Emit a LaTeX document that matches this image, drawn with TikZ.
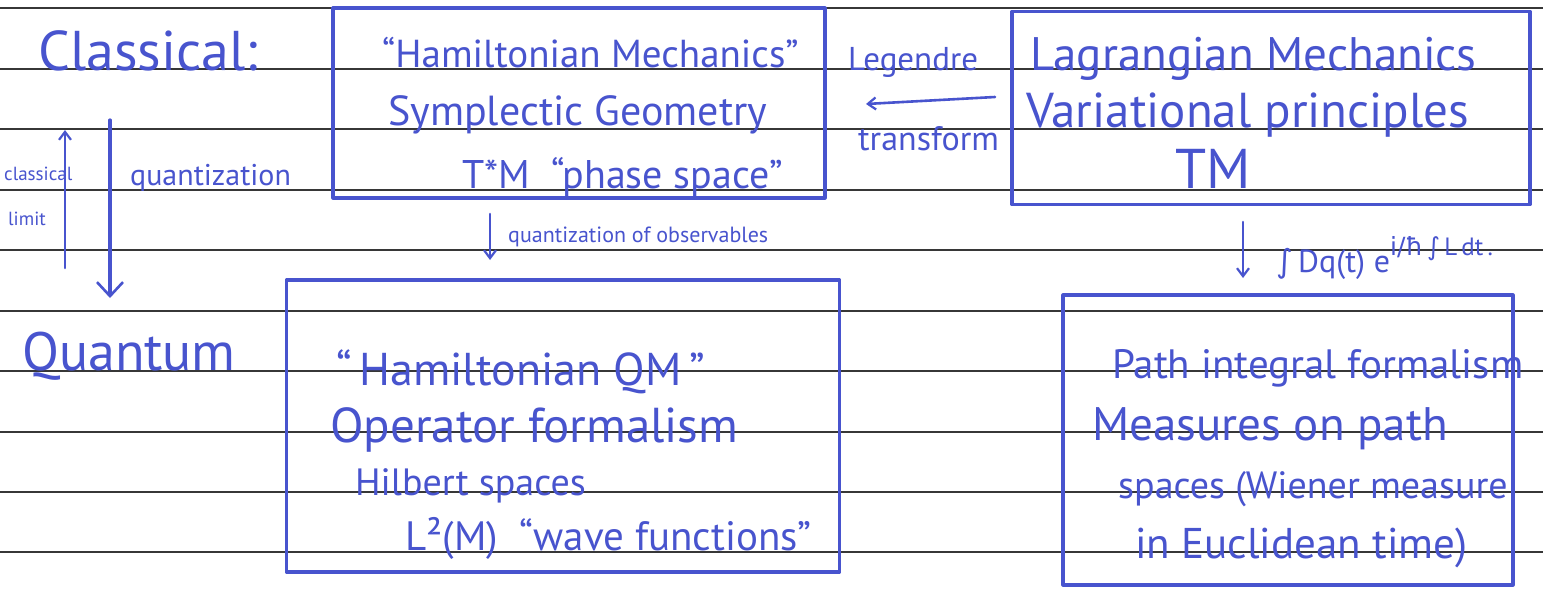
\documentclass[tikz,border=0pt]{standalone}
\usepackage{fontspec}
\setmainfont{PT Sans}
\newfontfamily\symfont{DejaVu Sans}
\usetikzlibrary{arrows.meta}
\definecolor{pen}{RGB}{72,84,206}
\definecolor{ruling}{RGB}{55,55,55}
\newcommand{\fs}[1]{\fontsize{#1}{#1}\selectfont}
\begin{document}
\begin{tikzpicture}[x=1pt,y=-1pt,
  penline/.style={draw=pen,line width=3.2pt,line cap=round,line join=round},
  box/.style={penline,rectangle,inner sep=0pt},
  txt/.style={text=pen,anchor=base west,inner sep=0pt},
  arr/.style={penline,-{Straight Barb[length=14pt,width=26pt,line width=2.6pt]}},
  sarr/.style={penline,line width=2.6pt,-{Straight Barb[length=8pt,width=12pt,line width=2.2pt]}}
]
\useasboundingbox (0,0) rectangle (1543,608);
\fill[white] (0,0) rectangle (1543,608);
% ruled paper
\foreach \y in {8,69,129,190,250,311,371,432,492,552}
  \draw[ruling,line width=1.2pt] (0,\y) -- (1543,\y);

% boxes
\node[box,minimum width=492pt,minimum height=190pt] (ham) at (579,103) {};
\node[box,minimum width=518pt,minimum height=193pt] (lag) at (1271,108) {};
\node[box,minimum width=553pt,minimum height=292pt] (hqm) at (563,426) {};
\node[box,minimum width=450pt,minimum height=290pt] (pint) at (1288,440) {};

% left column labels
\node[txt,font=\fs{56}] (classical) at (38,70) {Classical:};
\node[txt,font=\fs{54}] (quantum) at (22,370) {Quantum};
\node[txt,font=\fs{19}] (cl1) at (4,180) {classical};
\node[txt,font=\fs{19}] (cl2) at (8,225) {limit};
\node[txt,font=\fs{30}] (quant) at (130,185) {quantization};

% Hamiltonian mechanics box
\node[txt,font=\fs{39}] (h1) at (382,67) {“Hamiltonian Mechanics”};
\node[txt,font=\fs{42}] (h2) at (388,125) {Symplectic Geometry};
\node[txt,font=\fs{40}] (h3) at (462,188) {T*M \ “phase space”};

% Legendre
\node[txt,font=\fs{33}] (leg1) at (848,70) {Legendre};
\node[txt,font=\fs{34}] (leg2) at (858,150) {transform};

% Lagrangian box
\node[txt,font=\fs{47}] (l1) at (1030,70) {Lagrangian Mechanics};
\node[txt,font=\fs{49}] (l2) at (1026,127) {Variational principles};
\node[txt,font=\fs{56}] (l3) at (1175,188) {TM};

% quantization of observables / path integral labels
\node[txt,font=\fs{22}] (qobs) at (508,242) {quantization of observables};
\node[txt,font=\fs{32}] (pil) at (1276,272) {{\symfont ∫}\,Dq(t)\;e\raisebox{17pt}{\fs{25}{\symfont i/ħ\,∫}\,L\,dt\,.}};

% Hamiltonian QM box
\node[txt,font=\fs{46}] (q1) at (336,385) {“\,Hamiltonian QM\,”};
\node[txt,font=\fs{49}] (q2) at (330,442) {Operator formalism};
\node[txt,font=\fs{38}] (q3) at (355,495) {Hilbert spaces};
\node[txt,font=\fs{41}] (q4) at (405,550) {L²(M) \ “wave functions”};

% Path integral box
\node[txt,font=\fs{41}] (p1) at (1112,378) {Path integral formalism};
\node[txt,font=\fs{47}] (p2) at (1092,440) {Measures on path};
\node[txt,font=\fs{38}] (p3) at (1118,498) {spaces (Wiener measure};
\node[txt,font=\fs{43}] (p4) at (1135,558) {in Euclidean time)};

% arrow endpoints
\coordinate (qa) at (110,120);
\coordinate (qb) at (110,298);
\coordinate (ca) at (65,268);
\coordinate (cb) at (65,130);
\coordinate (la) at (995,97);
\coordinate (lb) at (866,104);
\coordinate (oa) at (490,214);
\coordinate (ob) at (490,260);
\coordinate (pa) at (1243,222);
\coordinate (pb) at (1243,278);

\draw[arr] (qa) -- (qb);
\draw[sarr] (ca) -- (cb);
\draw[sarr] (la) -- (lb);
\draw[sarr] (oa) -- (ob);
\draw[sarr] (pa) -- (pb);
\end{tikzpicture}
\end{document}
